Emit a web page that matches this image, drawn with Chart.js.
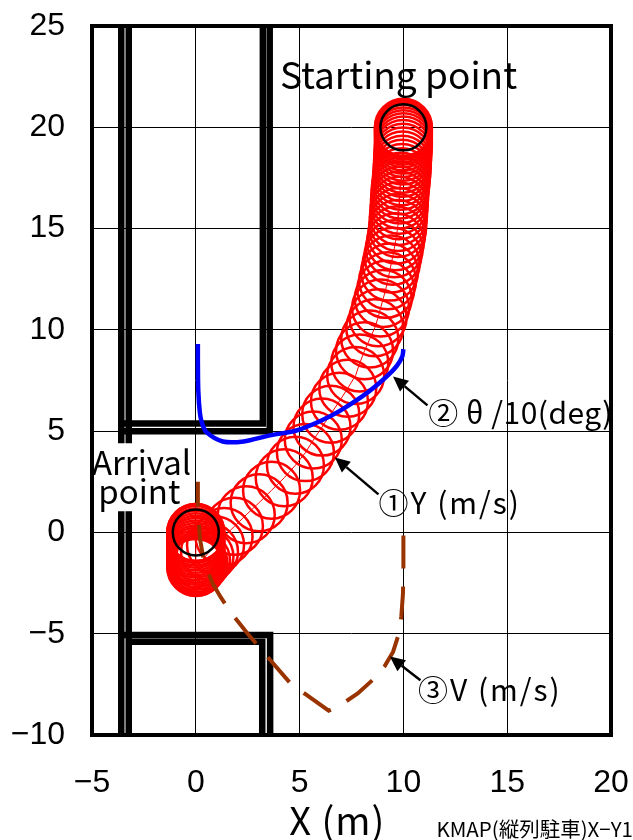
<!DOCTYPE html>
<html><head><meta charset="utf-8">
<style>html,body{margin:0;padding:0;background:#fff}canvas{display:block}</style>
<script src="https://cdn.jsdelivr.net/npm/chart.js@4"></script></head>
<body><canvas id="c" width="633" height="840"></canvas>
<script>
const redX=[10,10,10,10,10,10,10,10,9.99,9.98,9.97,9.96,9.95,9.94,9.93,9.91,9.89,9.87,9.84,9.83,9.81,9.8,9.78,9.76,9.74,9.72,9.67,9.62,9.56,9.49,9.41,9.33,9.24,9.15,9.03,8.9,8.78,8.62,8.38,8.13,7.9,7.7,7.32,6.92,6.5,6.08,5.66,5.28,4.8,4.26,3.65,3.05,2.43,1.86,1.36,0.95,0.66,0.44,0.28,0.16,0.08,0.03,0,0,0,0,0,0,0,0,0,0,0,0,0,0,0,0,0];
const redY=[20,19.92,19.82,19.7,19.57,19.43,19.28,19.12,18.95,18.77,18.58,18.38,18.18,17.98,17.77,17.56,17.34,17.12,16.9,16.66,16.41,16.15,15.88,15.6,15.3,15,14.68,14.35,14,13.63,13.25,12.85,12.43,12,11.55,11.08,10.6,10.1,9.55,8.97,8.37,7.75,7.12,6.48,5.84,5.2,4.56,3.94,3.32,2.7,2.08,1.47,0.87,0.3,-0.2,-0.62,-0.95,-1.2,-1.4,-1.55,-1.65,-1.7,-1.73,-1.66,-1.54,-1.42,-1.3,-1.18,-1.06,-0.94,-0.82,-0.7,-0.58,-0.46,-0.34,-0.22,-0.1,0,0];
const blueX=[0.1,0.1,0.12,0.2,0.3,0.51,1.3,2.3,3.56,4.85,6,6.94,8,8.7,9.3,9.7,9.95,10];
const blueY=[9.3,8.5,7,5.87,5.4,4.95,4.49,4.49,4.79,5.03,5.5,6,6.7,7.25,7.8,8.25,8.7,9.05];
const brownX=[10,10,9.98,9.9,9.75,9.5,9.1,8.5,7.8,7,6.4,5.3,4.6,3.5,2.5,1.8,1.2,0.8,0.4,0.2,0.1,0.1];
const brownY=[-0.15,-1.75,-3,-4.15,-5.1,-5.9,-6.6,-7.3,-7.95,-8.5,-8.8,-8,-7.5,-6.2,-5,-4.1,-3.2,-2.5,-1.5,-0.3,1.2,2.5];
const xTickLabels=["\u22125","0","5","10","15","20"];
const yTickLabels=["\u221210","\u22125","0","5","10","15","20","25"];
const circleX=[10,0], circleY=[20,0];
const wallSets=[
 {x:[-3.59,-3.59,null,-3.59,-3.59],y:[25,4.4,null,1.04,-10]},
 {x:[-3.23,-3.23,null,-3.23,-3.23],y:[25,4.4,null,1.04,-10]},
 {x:[3.23,3.23,-3.59],y:[25,5.38,5.38]},
 {x:[3.56,3.56,-3.59],y:[25,5,5]},
 {x:[3.58,3.58,-3.59],y:[-10,-5.06,-5.06]},
 {x:[3.2,3.2,-3.23],y:[-10,-5.4,-5.4]}
];
const arrows=[
 {from:[11.16,6.27],to:[9.5,7.7]},
 {from:[8.8,1.88],to:[6.7,3.7]},
 {from:[10.82,-7.3],to:[9.35,-6.12]}
];
const notes=[
 {t:"Starting point",x:4.05,y:22.6,f:'37px "Noto Sans CJK JP"',s:'0px'},
 {t:"Arrival",x:-5,y:3.45,f:'33px "Noto Sans CJK JP"',s:'0px'},
 {t:"point",x:-4.7,y:2.0,f:'33px "Noto Sans CJK JP"',s:'0px'},
 {t:"\u2461 \u03B8 /10(deg)",x:11.2,y:5.9,f:'30px "Noto Sans CJK JP"',s:'0.5px'},
 {t:"\u2460Y (m/s)",x:8.8,y:1.47,f:'30px "Noto Sans CJK JP"',s:'2px'},
 {t:"\u2462V (m/s)",x:10.7,y:-7.75,f:'30px "Noto Sans CJK JP"',s:'2px'},
 {t:"X (m)",x:4.5,y:-14.2,f:'38px "Noto Sans CJK JP"',s:'1px'}
];
const pts=(xs,ys)=>xs.map((x,i)=>({x:x,y:ys[i]}));
const datasets=[];
wallSets.forEach(w=>datasets.push({data:pts(w.x,w.y),showLine:true,borderColor:'#000',borderWidth:6.5,pointRadius:0,order:10,borderCapStyle:'butt'}));
datasets.push({data:pts(redX,redY),showLine:true,borderColor:'#f00',borderWidth:1,pointRadius:28.5,pointBorderWidth:2.5,pointBorderColor:'#f00',pointBackgroundColor:'rgba(0,0,0,0)',order:6});
datasets.push({data:pts(brownX,brownY),showLine:true,borderColor:'#993300',borderWidth:4,borderDash:[33,18],pointRadius:0,order:5});
datasets.push({data:pts(blueX,blueY),showLine:true,borderColor:'#0000ff',borderWidth:4.5,pointRadius:0,tension:0.3,order:4});
datasets.push({data:pts(circleX,circleY),showLine:false,pointRadius:23,pointBorderWidth:2.5,pointBorderColor:'#000',pointBackgroundColor:'rgba(0,0,0,0)',order:3});
const overlay={id:'overlay',afterDatasetsDraw(ch){
 const c=ch.ctx,sx=ch.scales.x,sy=ch.scales.y,a=ch.chartArea;
 c.save();
 c.strokeStyle='#000';c.lineWidth=4;c.strokeRect(a.left,a.top,a.right-a.left,a.bottom-a.top);
 c.fillStyle='#000';c.lineWidth=2.5;
 arrows.forEach(r=>{
  const x0=sx.getPixelForValue(r.from[0]),y0=sy.getPixelForValue(r.from[1]),x1=sx.getPixelForValue(r.to[0]),y1=sy.getPixelForValue(r.to[1]);
  const an=Math.atan2(y1-y0,x1-x0),L=15,W=7;
  c.beginPath();c.moveTo(x0,y0);c.lineTo(x1-L*Math.cos(an),y1-L*Math.sin(an));c.stroke();
  c.beginPath();c.moveTo(x1,y1);
  c.lineTo(x1-L*Math.cos(an)+W*Math.sin(an),y1-L*Math.sin(an)-W*Math.cos(an));
  c.lineTo(x1-L*Math.cos(an)-W*Math.sin(an),y1-L*Math.sin(an)+W*Math.cos(an));
  c.closePath();c.fill();
 });
 c.textBaseline='middle';c.textAlign='left';c.fillStyle='#000';
 notes.forEach(n=>{c.font=n.f;c.letterSpacing=n.s;c.fillText(n.t,sx.getPixelForValue(n.x),sy.getPixelForValue(n.y));});
 c.letterSpacing='0px';
 c.font='20.5px "Noto Sans CJK JP"';c.textAlign='right';c.fillText("KMAP(\u7E26\u5217\u99D0\u8ECA)X\u2212Y1",633,829);
 c.restore();
}};
new Chart(document.getElementById('c'),{
 type:'scatter',
 data:{datasets},
 plugins:[overlay],
 options:{
  responsive:false,animation:false,
  layout:{autoPadding:false,padding:{left:0,right:22,top:26,bottom:0}},
  plugins:{legend:{display:false},tooltip:{enabled:false}},
  scales:{
   x:{type:'linear',min:-5,max:20,afterFit:s=>{s.height=105;s.paddingLeft=0;s.paddingRight=0;},
    grid:{color:'#000',lineWidth:1,drawTicks:false},border:{display:false},
    ticks:{stepSize:5,padding:29,maxRotation:0,color:'#000',font:{family:'"Liberation Sans"',size:32},
      callback:(v,i)=>xTickLabels[i]}},
   y:{type:'linear',min:-10,max:25,afterFit:s=>{s.width=92;s.paddingTop=0;s.paddingBottom=0;},
    grid:{color:'#000',lineWidth:1,drawTicks:false},border:{display:false},
    ticks:{stepSize:5,padding:27,color:'#000',font:{family:'"Liberation Sans"',size:32},
      callback:(v,i)=>yTickLabels[i]}}
  }
 }
});
</script></body></html>
